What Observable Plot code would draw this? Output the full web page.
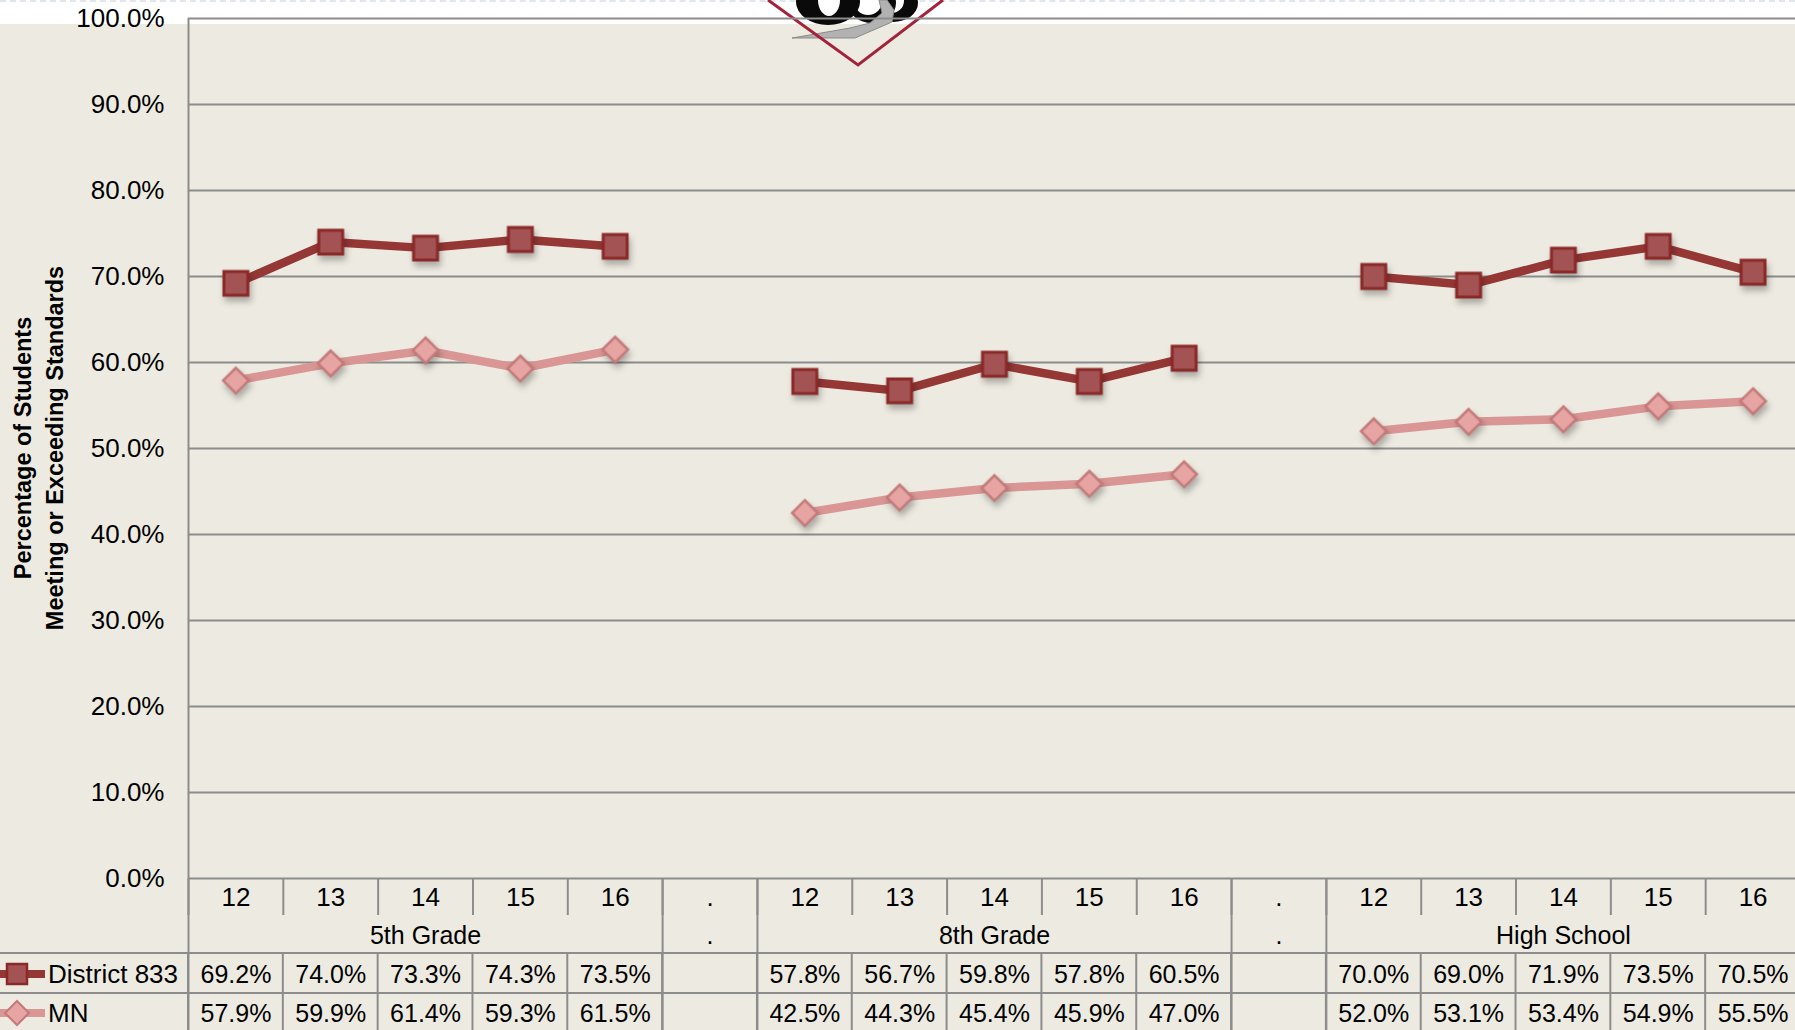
<!DOCTYPE html>
<html>
<head>
<meta charset="utf-8">
<script src="https://cdn.jsdelivr.net/npm/d3@7"></script>
<script src="https://cdn.jsdelivr.net/npm/@observablehq/plot@0.6"></script>
<style>
html,body{margin:0;padding:0;width:1795px;height:1030px;overflow:hidden;background:#fff;font-family:"Liberation Sans",Arial,sans-serif;}
#wrap{position:relative;width:1795px;height:1030px;overflow:hidden;}
#bg{position:absolute;left:0;top:24px;width:1795px;height:1006px;background:#EDEBE1;}
#topdash{position:absolute;left:0;top:0;width:1795px;height:0;border-top:2px dashed #e1e6ee;}
#logo{position:absolute;left:0;top:0;}
#chart{position:absolute;left:0;top:0;width:1800px;}
#chart svg{max-width:none !important;}
</style>
</head>
<body>
<div id="wrap">
  <div id="bg"></div>
  <div id="topdash"></div>
  <svg id="logo" width="1795" height="80">
    <ellipse cx="893" cy="3" rx="25" ry="19" fill="#0a0a0a"/>
    <ellipse cx="891" cy="1" rx="13" ry="12" fill="#fff"/>
    <ellipse cx="872" cy="3" rx="24" ry="20" fill="#0a0a0a"/>
    <ellipse cx="868" cy="1" rx="14" ry="14" fill="#fff"/>
    <ellipse cx="828" cy="2" rx="32" ry="23" fill="#0a0a0a"/>
    <ellipse cx="829" cy="0" rx="11" ry="16" fill="#fff"/>
    <polygon points="792,38 855,38 892,22 894,10 887,0 879,0 882,13 870,23 850,28 827,32" fill="#b2b2b2" stroke="#8a8a8a" stroke-width="1"/>
    <polyline points="768,0 858,65 943,0" fill="none" stroke="#A3243A" stroke-width="3"/>
  </svg>
  <div id="chart"></div>
</div>
<script>
// ---- data ----
const groups = ["5th Grade", "8th Grade", "High School"];
const years = ["12", "13", "14", "15", "16"];
const gapLabel = ".";
const series = ["District 833", "MN"];
const district5th = [69.2, 74.0, 73.3, 74.3, 73.5];
const district8th = [57.8, 56.7, 59.8, 57.8, 60.5];
const districtHS  = [70.0, 69.0, 71.9, 73.5, 70.5];
const mn5th = [57.9, 59.9, 61.4, 59.3, 61.5];
const mn8th = [42.5, 44.3, 45.4, 45.9, 47.0];
const mnHS  = [52.0, 53.1, 53.4, 54.9, 55.5];
const yTicks = [0, 10, 20, 30, 40, 50, 60, 70, 80, 90, 100];
const yTitle = ["Percentage of Students", "Meeting or Exceeding Standards"];

const districtVals = [district5th, district8th, districtHS];
const mnVals = [mn5th, mn8th, mnHS];

// ---- build slots (categories + gap columns) ----
const slots = [];
const groupSpans = [];
let s = 0;
groups.forEach((g, gi) => {
  const start = s;
  years.forEach((yr, yi) => { slots.push({slot: s, label: yr, group: g, gi, yi}); s++; });
  groupSpans.push({group: g, start, end: s});
  if (gi < groups.length - 1) { slots.push({slot: s, label: gapLabel, group: null}); groupSpans.push({group: gapLabel, start: s, end: s + 1}); s++; }
});
const nSlots = s;

const points = [];
slots.filter(d => d.group).forEach(d => {
  points.push({series: series[0], key: series[0] + d.group, xc: d.slot + 0.5, value: districtVals[d.gi][d.yi]});
  points.push({series: series[1], key: series[1] + d.group, xc: d.slot + 0.5, value: mnVals[d.gi][d.yi]});
});
const distPts = points.filter(d => d.series === series[0]);
const mnPts = points.filter(d => d.series === series[1]);

const slotLabel = new Map(slots.map(d => [d.slot + 0.5, d.label]));
const groupCenters = groupSpans.map(d => (d.start + d.end) / 2);
const groupLabel = new Map(groupSpans.map(d => [(d.start + d.end) / 2, d.group]));
const groupBounds = Array.from(new Set(groupSpans.flatMap(d => [d.start, d.end])));

const GRID = "#8c8c8c";
const C_DIST = "#953735", C_MN = "#D99694";
const FONT = "Liberation Sans, Arial, sans-serif";

const plot = Plot.plot({
  width: 1800,
  height: 1040,
  marginTop: 18,
  marginBottom: 162,
  marginLeft: 188,
  marginRight: 0,
  style: {background: "transparent", fontFamily: FONT, fontSize: "25px", color: "#000", overflow: "visible", maxWidth: "none"},
  x: {type: "linear", domain: [0, nSlots], axis: null},
  y: {type: "linear", domain: [0, 100], axis: null},
  color: {domain: series, range: [C_DIST, C_MN]},
  marks: [
    Plot.ruleY(yTicks, {stroke: GRID, strokeWidth: 2}),
    Plot.ruleX([0], {stroke: GRID, strokeWidth: 2}),
    Plot.axisY(yTicks, {anchor: "left", tickSize: 0, tickPadding: 24, tickFormat: d => d.toFixed(1) + "%", fontSize: 26, label: null, fill: "#000"}),
    Plot.axisX(d3.range(nSlots + 1), {anchor: "bottom", tickSize: 37, tickFormat: () => "", stroke: GRID, strokeWidth: 2, label: null}),
    Plot.axisX(groupBounds, {anchor: "bottom", tickSize: 162, tickFormat: () => "", stroke: GRID, strokeWidth: 2, label: null}),
    Plot.axisX(slots.map(d => d.slot + 0.5), {anchor: "bottom", tickSize: 0, tickPadding: 9, tickFormat: d => slotLabel.get(d), fontSize: 26, label: null, fill: "#000"}),
    Plot.axisX(groupCenters, {anchor: "bottom", tickSize: 0, tickPadding: 48, tickFormat: d => groupLabel.get(d), fontSize: 25, label: null, fill: "#000"}),
    Plot.line(points, {x: "xc", y: "value", z: "key", stroke: "series", strokeWidth: 8.5, strokeLinejoin: "miter"}),
    Plot.dot(distPts, {x: "xc", y: "value", symbol: "square", r: 13.5, fill: "#A35353", stroke: "#8B2828", strokeWidth: 3}),
    Plot.dot(mnPts, {x: "xc", y: "value", symbol: "diamond2", r: 11.5, fill: "#E6A4A3", stroke: "#C47979", strokeWidth: 2.5}),
    Plot.text(distPts, {x: "xc", text: d => d.value.toFixed(1) + "%", frameAnchor: "bottom", lineAnchor: "middle", dy: 96, fontSize: 25, fill: "#000"}),
    Plot.text(mnPts, {x: "xc", text: d => d.value.toFixed(1) + "%", frameAnchor: "bottom", lineAnchor: "middle", dy: 135, fontSize: 25, fill: "#000"})
  ]
});
document.getElementById("chart").appendChild(plot);

// shadows on markers
const svg = d3.select(plot);
svg.selectAll("g[aria-label=dot]").style("filter", "drop-shadow(2px 5px 3px rgba(0,0,0,0.28))");

// ---- data-table grid and legend (positions from Plot's x scale) ----
const xs = plot.scale("x");
const xR = xs.apply(nSlots);
const rowTops = [953, 993, 1033];
const g = svg.append("g");
rowTops.forEach(y => g.append("line").attr("x1", 0).attr("x2", xR).attr("y1", y).attr("y2", y).attr("stroke", GRID).attr("stroke-width", 2));
d3.range(nSlots + 1).forEach(i => {
  const x = xs.apply(i);
  g.append("line").attr("x1", x).attr("x2", x).attr("y1", rowTops[0]).attr("y2", 1040).attr("stroke", GRID).attr("stroke-width", 2);
});
// legend keys
const lg = svg.append("g").attr("text-anchor", "start");
const rowMid = [974, 1013];
lg.append("line").attr("x1", 0).attr("x2", 45).attr("y1", rowMid[0]).attr("y2", rowMid[0]).attr("stroke", C_DIST).attr("stroke-width", 8);
lg.append("rect").attr("x", 7).attr("y", rowMid[0] - 10).attr("width", 20).attr("height", 20).attr("fill", "#A35353").attr("stroke", "#8B2828").attr("stroke-width", 2.5);
lg.append("line").attr("x1", 0).attr("x2", 45).attr("y1", rowMid[1]).attr("y2", rowMid[1]).attr("stroke", C_MN).attr("stroke-width", 8);
lg.append("path").attr("d", `M17,${rowMid[1]-12}L29,${rowMid[1]}L17,${rowMid[1]+12}L5,${rowMid[1]}Z`).attr("fill", "#E6A4A3").attr("stroke", "#C47979").attr("stroke-width", 2);
series.forEach((name, i) => {
  lg.append("text").attr("x", 48).attr("y", rowMid[i]).attr("dy", "0.35em").attr("text-anchor", "start").attr("font-size", 26).attr("fill", "#000").text(name);
});
// y-axis title
const yt = svg.append("text").attr("transform", "translate(39,448) rotate(-90)").attr("text-anchor", "middle")
  .attr("font-size", 23.5).attr("font-weight", "bold").attr("fill", "#000");
yt.append("tspan").attr("x", 0).attr("y", -16).attr("dy", "0.35em").text(yTitle[0]);
yt.append("tspan").attr("x", 0).attr("y", 16).attr("dy", "0.35em").text(yTitle[1]);
</script>
</body>
</html>
